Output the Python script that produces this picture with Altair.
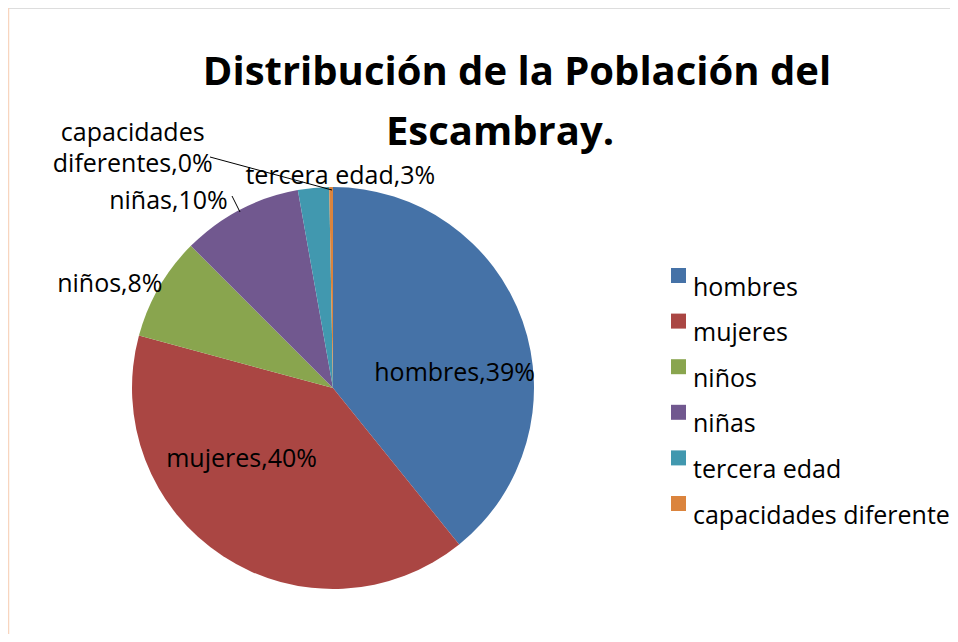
import altair as alt
import pandas as pd

categorias = ["hombres", "mujeres", "niños", "niñas", "tercera edad", "capacidades diferentes"]
valores = [39.2, 40.0, 8.3, 9.7, 2.5, 0.3]
colores = ["#4572A7", "#AA4643", "#89A54E", "#71588F", "#4198AF", "#DB843D"]
titulo = ["Distribución de la Población del", "Escambray."]

total = sum(valores)
etiquetas = []
for c, v in zip(categorias, valores):
    pct = int(v / total * 100 + 0.5)
    nombre = c if c != "capacidades diferentes" else "capacidades\ndiferentes"
    etiquetas.append(f"{nombre},{pct}%")

df = pd.DataFrame({
    "categoria": categorias,
    "valor": valores,
    "orden": list(range(len(categorias))),
    "etiqueta": etiquetas,
})

FONT = "Open Sans"
CX, CY, R = 325, 380, 201

base = alt.Chart(df)
theta = alt.Theta("valor:Q", stack=True, scale=alt.Scale(domain=[0, total]))

pie = base.mark_arc(outerRadius=R).encode(
    theta=theta,
    order=alt.Order("orden:Q"),
    x=alt.value(CX),
    y=alt.value(CY),
    color=alt.Color(
        "categoria:N",
        scale=alt.Scale(domain=categorias, range=colores),
        sort=categorias,
        title=None,
        legend=alt.Legend(
            orient="none", legendX=658, legendY=255,
            symbolType="square", symbolSize=225, symbolStrokeWidth=0,
            labelFont=FONT, labelFontSize=25, labelColor="black",
            labelOffset=2, labelBaseline="top", rowPadding=7.6, labelLimit=400,
        ),
    ),
)

# label placement (radius, dx, dy) per category
ajustes = {
    "hombres": (129, 0, 28),
    "mujeres": (85, -45, 0),
    "niños": (207, -44, 0),
    "niñas": (211, -67, 0),
    "tercera edad": (213, 28, 0),
    "capacidades diferentes": (240, -198, -15),
}

capas = [pie]
for cat, (rad, dx, dy) in ajustes.items():
    capas.append(
        base.mark_text(
            radius=rad, dx=dx, dy=dy, font=FONT, fontSize=25, color="black",
            align="center", baseline="middle", lineBreak="\n", lineHeight=31,
        ).encode(
            theta=theta,
            order=alt.Order("orden:Q"),
            x=alt.value(CX),
            y=alt.value(CY),
            text=alt.condition(alt.datum.categoria == cat, "etiqueta:N", alt.value("")),
        )
    )

# leader lines
lineas = [
    ((224, 188), (232, 204)),
    ((202, 149), (324, 182)),
]
for (x1, y1), (x2, y2) in lineas:
    capas.append(
        alt.Chart(df.head(1)).mark_rule(color="black", strokeWidth=1).encode(
            x=alt.value(x1), y=alt.value(y1), x2=alt.value(x2), y2=alt.value(y2)
        )
    )

# faint border line on the left
capas.append(
    alt.Chart(df.head(1)).mark_rule(color="#F8D5BF", strokeWidth=1.5).encode(
        x=alt.value(0.5), y=alt.value(0), y2=alt.value(626)
    )
)

# title
for linea, tx, ty in [(titulo[0], 509, 77), (titulo[1], 492, 137)]:
    capas.append(
        alt.Chart(df.head(1)).mark_text(
            font=FONT, fontSize=40, fontWeight="bold", color="black",
            align="center", baseline="alphabetic",
        ).encode(x=alt.value(tx), y=alt.value(ty), text=alt.value(linea))
    )

chart = alt.layer(*capas).properties(
    width=942, height=626,
    autosize=alt.AutoSizeParams(type="none"),
    padding=0,
).configure_view(stroke="transparent", strokeWidth=0).configure(background="white")

chart.save("out.html", embed_options={"renderer": "svg", "actions": False})
